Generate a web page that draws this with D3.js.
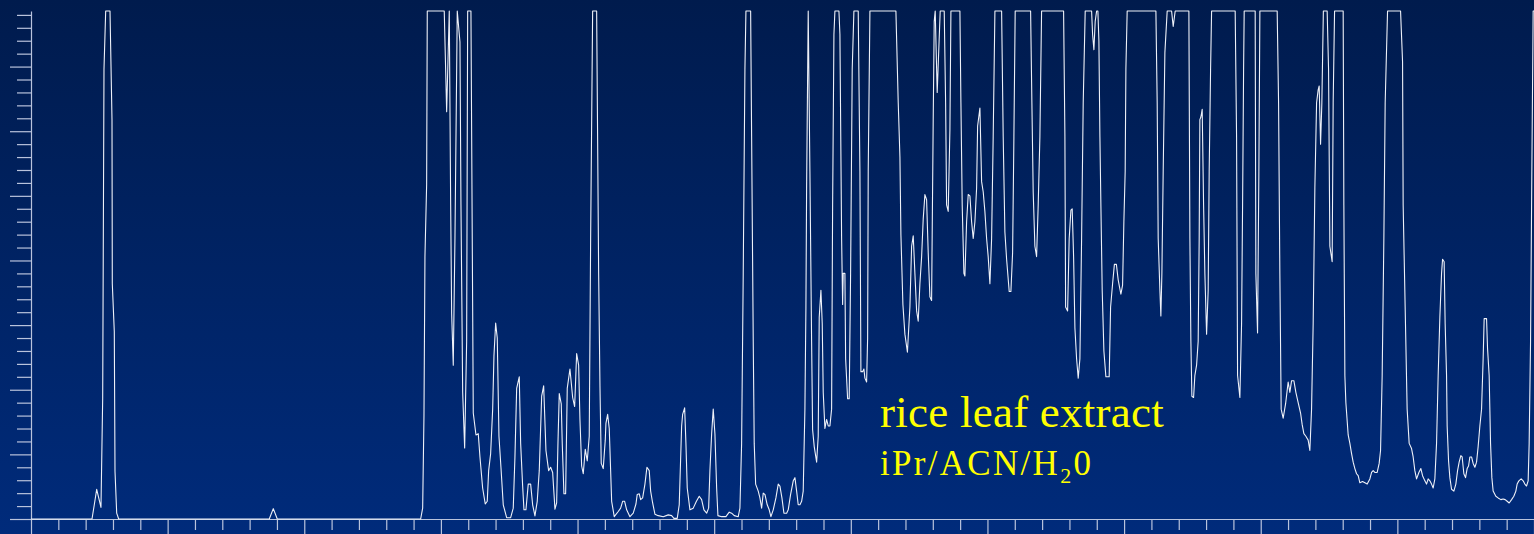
<!DOCTYPE html>
<html>
<head>
<meta charset="utf-8">
<script src="https://cdn.jsdelivr.net/npm/d3@7"></script>
<style>
  html, body { margin: 0; padding: 0; background: #00225f; overflow: hidden; }
  svg { display: block; }
</style>
</head>
<body>
<svg id="chart" width="1534" height="534"></svg>
<script>
// Chromatogram of a rice leaf extract (iPr/ACN/H2O eluent).
// Retention time in minutes (one tick per minute) and detector response
// (one tick per unit; the detector saturates at the top of the scale).
const retentionTime = [
  0, 2.232, 2.323, 2.404, 2.561, 2.623, 2.671, 2.733, 2.891, 2.964, 2.975, 3.048, 3.074, 3.136, 3.209,
  8.719, 8.866, 9.012,
  14.259, 14.332, 14.380, 14.416, 14.478, 14.501, 15.122, 15.210, 15.306, 15.357, 15.393, 15.452, 15.514,
  15.598, 15.697, 15.734, 15.796, 15.869, 15.942, 15.979, 16.099, 16.184, 16.283, 16.367, 16.429, 16.527,
  16.623, 16.696, 16.747, 16.820, 16.894, 16.941, 17.003, 17.062, 17.124, 17.197, 17.281, 17.406, 17.552,
  17.647, 17.709, 17.772, 17.867, 17.918, 17.991, 18.039, 18.112, 18.196, 18.284, 18.357, 18.441, 18.525,
  18.599, 18.687, 18.760, 18.844, 18.942, 19.016, 19.089, 19.173, 19.235, 19.283, 19.331, 19.404, 19.440,
  19.502, 19.564, 19.623, 19.722, 19.821, 19.894, 19.967, 20.040, 20.088, 20.150, 20.209, 20.282, 20.355,
  20.428, 20.479, 20.552, 20.699, 20.772, 20.820, 20.867, 20.940, 21.014, 21.039, 21.101, 21.160, 21.248,
  21.343, 21.489, 21.577, 21.650, 21.723, 21.797, 21.917, 22.038, 22.137, 22.184, 22.258, 22.309, 22.382,
  22.466, 22.539, 22.623, 22.675, 22.748, 22.832, 22.953, 23.136, 23.319, 23.443, 23.527, 23.648, 23.721,
  23.809, 23.846, 23.919, 23.966, 24.014, 24.113, 24.233, 24.350, 24.453, 24.541, 24.625, 24.724, 24.797,
  24.844, 24.907, 24.965, 25.027, 25.090, 25.137, 25.272, 25.430, 25.551, 25.638, 25.734, 25.880, 25.942,
  26.004, 26.063, 26.125, 26.162, 26.334, 26.370, 26.429, 26.465, 26.517, 26.612, 26.674, 26.736, 26.795,
  26.857, 26.941, 27.014, 27.076, 27.161, 27.259, 27.344, 27.406, 27.479, 27.552, 27.651, 27.709, 27.797,
  27.893, 27.955, 28.017, 28.075, 28.138, 28.200, 28.258, 28.320, 28.357, 28.382, 28.441, 28.503, 28.565,
  28.602, 28.661, 28.749, 28.807, 28.844, 28.906, 28.954, 28.990, 29.052, 29.114, 29.173, 29.235, 29.297,
  29.334, 29.382, 29.418, 29.565, 29.601, 29.663, 29.700, 29.722, 29.784, 29.810, 29.883, 29.941, 29.992,
  30.051, 30.113, 30.271, 30.333, 30.369, 30.432, 30.479, 30.516, 30.578, 30.615, 30.637, 30.699, 31.650,
  31.735, 31.797, 31.833, 31.906, 31.979, 32.071, 32.162, 32.225, 32.284, 32.345, 32.408, 32.466, 32.528,
  32.591, 32.649, 32.711, 32.773, 32.832, 32.894, 32.956, 33.015, 33.052, 33.088, 33.161, 33.271, 33.418,
  33.469, 33.505, 33.564, 33.626, 33.663, 33.992, 34.029, 34.076, 34.138, 34.175, 34.237, 34.296, 34.358,
  34.420, 34.479, 34.541, 34.603, 34.640, 34.724, 34.786, 34.845, 34.906, 34.969, 35.027, 35.090, 35.152,
  35.210, 35.273, 35.518, 35.576, 35.638, 35.701, 35.796, 35.858, 35.920, 35.968, 36.015, 36.579, 36.626,
  36.674, 36.736, 36.798, 36.857, 36.919, 36.981, 37.786, 37.834, 37.860, 37.933, 37.991, 38.054, 38.101,
  38.152, 38.200, 38.262, 38.321, 38.383, 38.445, 38.504, 38.577, 38.811, 38.847, 38.895, 38.943, 38.994,
  39.041, 39.078, 39.115, 39.151, 39.199, 39.261, 39.334, 39.455, 39.506, 39.579, 39.645, 39.718, 39.784,
  39.828, 39.883, 39.945, 39.992, 40.040, 40.066, 40.113, 41.164, 41.211, 41.248, 41.310, 41.346, 41.383,
  41.431, 41.493, 41.577, 41.738, 41.797, 41.870, 42.371, 42.408, 42.444, 42.481, 42.543, 42.590, 42.653,
  42.711, 42.748, 42.773, 42.810, 42.858, 42.909, 42.956, 43.019, 43.077, 43.114, 43.165, 43.202, 44.065,
  44.116, 44.153, 44.237, 44.299, 44.336, 44.373, 44.395, 44.797, 44.822, 44.884, 44.932, 44.969, 45.602,
  45.653, 45.700, 45.748, 45.821, 45.909, 46.004, 46.066, 46.129, 46.213, 46.286, 46.370, 46.458, 46.517,
  46.579, 46.652, 46.736, 46.798, 46.860, 46.919, 46.981, 47.044, 47.102, 47.139, 47.190, 47.237, 47.292,
  47.431, 47.482, 47.530, 47.614, 47.651, 47.702, 48.017, 48.042, 48.079, 48.116, 48.200, 48.262, 48.324,
  48.383, 48.445, 48.507, 48.566, 48.628, 48.726, 48.811, 48.895, 48.994, 49.056, 49.114, 49.177, 49.261,
  49.334, 49.385, 49.444, 49.506, 49.554, 49.641, 50.117, 50.190, 50.212, 50.285, 50.358, 50.432, 50.519,
  50.578, 50.640, 50.702, 50.787, 50.860, 50.922, 51.006, 51.068, 51.127, 51.189, 51.251, 51.310, 51.372,
  51.434, 51.493, 51.555, 51.617, 51.654, 51.712, 51.749, 51.800, 51.822, 51.873, 51.921, 51.983, 52.067,
  52.140, 52.203, 52.261, 52.323, 52.371, 52.433, 52.495, 52.554, 52.605, 52.653, 52.715, 52.773, 52.836,
  52.898, 52.956, 53.019, 53.081, 53.139, 53.176, 53.264, 53.300, 53.359, 53.410, 53.458, 53.505, 53.604,
  53.688, 53.787, 53.871, 53.944, 54.018, 54.091, 54.179, 54.262, 54.336, 54.383, 54.446, 54.530, 54.603,
  54.665, 54.727, 54.786, 54.823, 54.874, 54.921, 54.969, 55.0
];

const response = [
  0, 0, 1.2, 2.3, 0.9, 9.3, 34.8, 39.3, 39.3, 30.9, 18.2, 14.5, 3.7, 0.45, 0,
  0, 0.8, 0,
  0, 0.84, 7.96, 20.3, 25.9, 39.3, 39.3, 31.5, 39.3, 24.3, 15.9, 11.9, 21.7,
  39.3, 36.9, 24.3, 9.8, 5.5, 13.75, 39.3, 39.3, 8.2, 6.5, 6.6, 4.8, 2.4,
  1.16, 1.37, 3.74, 5.06, 8.5, 12.6, 15.15, 14.0, 6.4, 4.0, 1.1, 0.1, 0.1,
  0.84, 4.8, 10.1, 11.0, 5.85, 2.55, 0.71, 0.71, 2.7, 2.7, 1.1, 0.24, 1.37,
  3.74, 9.5, 10.3, 5.3, 3.74, 4.0, 3.6, 0.76, 1.24, 5.85, 9.7, 8.9, 5.85,
  1.95, 1.95, 10.1, 11.6, 9.4, 8.7, 12.8, 11.9, 7.7, 4.1, 3.5, 5.4, 4.5,
  6.4, 21.7, 39.3, 39.3, 19.0, 10.3, 4.3, 3.9, 6.1, 7.4, 8.1, 7.0, 1.37,
  0.18, 0.58, 0.84, 1.37, 1.37, 0.71, 0.18, 0.45, 1.16, 1.9, 1.95, 1.5, 1.63,
  2.7, 4.0, 3.74, 2.16, 1.24, 0.37, 0.26, 0.18, 0.32, 0.26, 0.05, 0.05, 1.1,
  7.2, 8.1, 8.6, 5.85, 2.4, 0.71, 0.84, 1.37, 1.76, 1.5, 0.71, 0.45, 0.84,
  3.74, 6.6, 8.5, 6.6, 2.4, 0.26, 0.18, 0.18, 0.53, 0.45, 0.26, 0.18, 0.84,
  5.85, 19.0, 34.8, 39.3, 39.3, 29.6, 13.75, 5.85, 2.7, 2.16, 1.63, 0.84, 2.0,
  1.9, 1.1, 0.71, 0.18, 0.71, 1.63, 2.7, 2.55, 1.63, 0.45, 0.45, 0.71, 1.9,
  2.95, 3.2, 2.16, 1.1, 1.1, 1.37, 2.16, 8.5, 16.4, 25.6, 39.3, 26.9, 13.75,
  6.9, 5.6, 4.4, 6.4, 15.6, 17.7, 15.1, 9.8, 7.0, 7.7, 7.2, 7.2, 8.5,
  24.3, 37.5, 39.3, 39.3, 37.5, 21.7, 16.6, 19.0, 19.0, 12.4, 9.3, 9.3, 19.0,
  34.8, 39.3, 39.3, 26.9, 11.4, 11.4, 11.6, 10.9, 10.6, 14, 26.9, 39.3, 39.3,
  32.2, 28, 22, 16.6, 14.3, 12.9, 16.4, 21.1, 21.9, 19.0, 16.1, 15.3, 18.2,
  20.3, 23.2, 25.1, 24.7, 20.6, 17.2, 16.9, 30.9, 38.5, 39.3, 33.0, 39.3, 39.3,
  32.2, 24.3, 23.8, 30.1, 39.3, 39.3, 32.2, 24.3, 19.0, 18.8, 23.0, 25.1, 25.0,
  23.0, 21.7, 23.0, 25.6, 30.4, 31.8, 26.1, 25.3, 23.8, 21.7, 20.3, 18.2, 21.7,
  29.6, 39.3, 39.3, 29.6, 22.2, 20.1, 17.6, 17.6, 20.6, 29.6, 39.3, 39.3, 32.2,
  25.3, 21.1, 20.3, 24.3, 29.6, 39.3, 39.3, 29.6, 16.4, 16.1, 21.7, 23.9, 24.0,
  20.3, 14.8, 12.4, 10.9, 12.4, 21.7, 32.2, 39.3, 39.3, 37.5, 36.3, 38.5, 39.3,
  39.3, 37.0, 29.6, 24.3, 17.7, 13.0, 11.0, 11.0, 16.4, 18.2, 19.7, 19.7, 18.5,
  18.0, 17.4, 18.1, 23.0, 26.9, 34.8, 39.3, 39.3, 32.2, 21.7, 17.7, 15.7, 19.0,
  26.9, 36.1, 39.3, 39.3, 38.1, 39.3, 39.3, 21.7, 13.75, 9.5, 9.4, 11.1, 11.9,
  13.75, 21.7, 30.9, 31.1, 31.7, 24.3, 19.0, 14.3, 17.7, 26.9, 34.8, 39.3, 39.3,
  29.6, 11.1, 9.4, 15.1, 24.3, 34.8, 39.3, 39.3, 19.0, 14.4, 26.9, 39.3, 39.3,
  32.2, 19.0, 8.5, 7.8, 8.9, 10.6, 9.8, 10.7, 10.7, 9.8, 9.0, 8.2, 7.3,
  6.6, 6.4, 6.1, 5.3, 8.5, 15.1, 25.6, 32.2, 33.2, 33.5, 29.0, 32.2, 39.3,
  39.3, 34.8, 21.1, 19.9, 32.2, 39.3, 39.3, 24.3, 11.1, 9.0, 6.5, 5.85, 5.06,
  4.4, 3.9, 3.5, 3.35, 2.8, 2.9, 2.8, 2.7, 3.1, 3.6, 3.74, 3.6, 3.6,
  4.3, 5.3, 11.1, 21.7, 32.2, 39.3, 39.3, 35.4, 24.3, 16.4, 8.5, 5.85, 5.45,
  4.8, 3.74, 3.1, 3.6, 3.9, 3.35, 2.95, 2.7, 3.1, 2.95, 2.7, 2.4, 3.1,
  5.85, 11.1, 15.6, 19.0, 20.1, 19.9, 15.1, 11.1, 7.2, 4.5, 3.2, 2.3, 2.16,
  2.7, 3.74, 4.4, 4.9, 4.8, 3.5, 3.2, 3.9, 4.1, 4.8, 4.8, 4.3, 4.0,
  4.4, 5.6, 7.2, 8.5, 12.4, 15.5, 15.5, 13.2, 11.1, 5.85, 3.2, 2.16, 1.76,
  1.63, 1.5, 1.55, 1.5, 1.37, 1.24, 1.5, 1.76, 2.16, 2.7, 2.95, 3.1, 2.95,
  2.7, 2.55, 2.95, 5.85, 13.75, 26.9, 39.3, 39.3
];

// Axis extents and ticks (unlabelled; a long tick every fifth unit)
const timeRange = [0, 55];
const responseRange = [0, 39.3];
const timeTicks = d3.range(0, 56);
const responseTicks = d3.range(0, 40);
const majorEvery = 5;

const titleText = "rice leaf extract";
const solventParts = ["iPr/ACN/H", "2", "0"];

const width = 1534, height = 534;
const svg = d3.select("#chart");

const x = d3.scaleLinear().domain(timeRange).range([31, 1534]);
const y = d3.scaleLinear().domain(responseRange).range([519, 11]).clamp(true);

// background: navy at the top fading to a brighter blue at the bottom
const defs = svg.append("defs");
const grad = defs.append("linearGradient")
  .attr("id", "bg").attr("x1", 0).attr("y1", 0).attr("x2", 0).attr("y2", 1);
grad.append("stop").attr("offset", "0%").attr("stop-color", "#001b4d");
grad.append("stop").attr("offset", "100%").attr("stop-color", "#002b7b");
svg.append("rect").attr("width", width).attr("height", height).attr("fill", "url(#bg)");

const axisColor = "#b9c3dc";

// y axis
const yAxis = d3.axisLeft(y)
  .tickValues(responseTicks)
  .tickSizeInner(14)
  .tickSizeOuter(0)
  .tickFormat("");
const gy = svg.append("g").attr("transform", "translate(31,0)").call(yAxis);
gy.selectAll(".tick line")
  .attr("x2", d => d % majorEvery === 0 ? -21 : -14);

// x axis
const xAxis = d3.axisBottom(x)
  .tickValues(timeTicks)
  .tickSizeInner(11)
  .tickSizeOuter(0)
  .tickFormat("");
const gx = svg.append("g").attr("transform", "translate(0,519)").call(xAxis);
gx.selectAll(".tick line")
  .attr("y2", d => d % majorEvery === 0 ? 16 : 11);

svg.selectAll(".domain").attr("stroke", axisColor).attr("stroke-width", 1.2);
svg.selectAll(".tick line").attr("stroke", axisColor).attr("stroke-width", 1.2);

// chromatogram trace
const points = retentionTime.map((t, i) => [t, response[i]]);
const line = d3.line().x(d => x(d[0])).y(d => y(d[1]));
svg.append("path")
  .datum(points)
  .attr("d", line)
  .attr("fill", "none")
  .attr("stroke", "#eef1f8")
  .attr("stroke-width", 1.1)
  .attr("stroke-linejoin", "round");

// sample annotation
svg.append("text")
  .attr("x", 880).attr("y", 427)
  .attr("font-family", "'Liberation Serif', 'Times New Roman', serif")
  .attr("font-size", 45)
  .attr("letter-spacing", 0.25)
  .attr("fill", "#ffff00")
  .text(titleText);

const solvent = svg.append("text")
  .attr("x", 880).attr("y", 475)
  .attr("font-family", "'Liberation Serif', 'Times New Roman', serif")
  .attr("font-size", 35)
  .attr("letter-spacing", 2.3)
  .attr("fill", "#ffff00");
solvent.append("tspan").text(solventParts[0]);
solvent.append("tspan").attr("font-size", 22).attr("dy", 8).text(solventParts[1]);
solvent.append("tspan").attr("dy", -8).text(solventParts[2]);
</script>
</body>
</html>
